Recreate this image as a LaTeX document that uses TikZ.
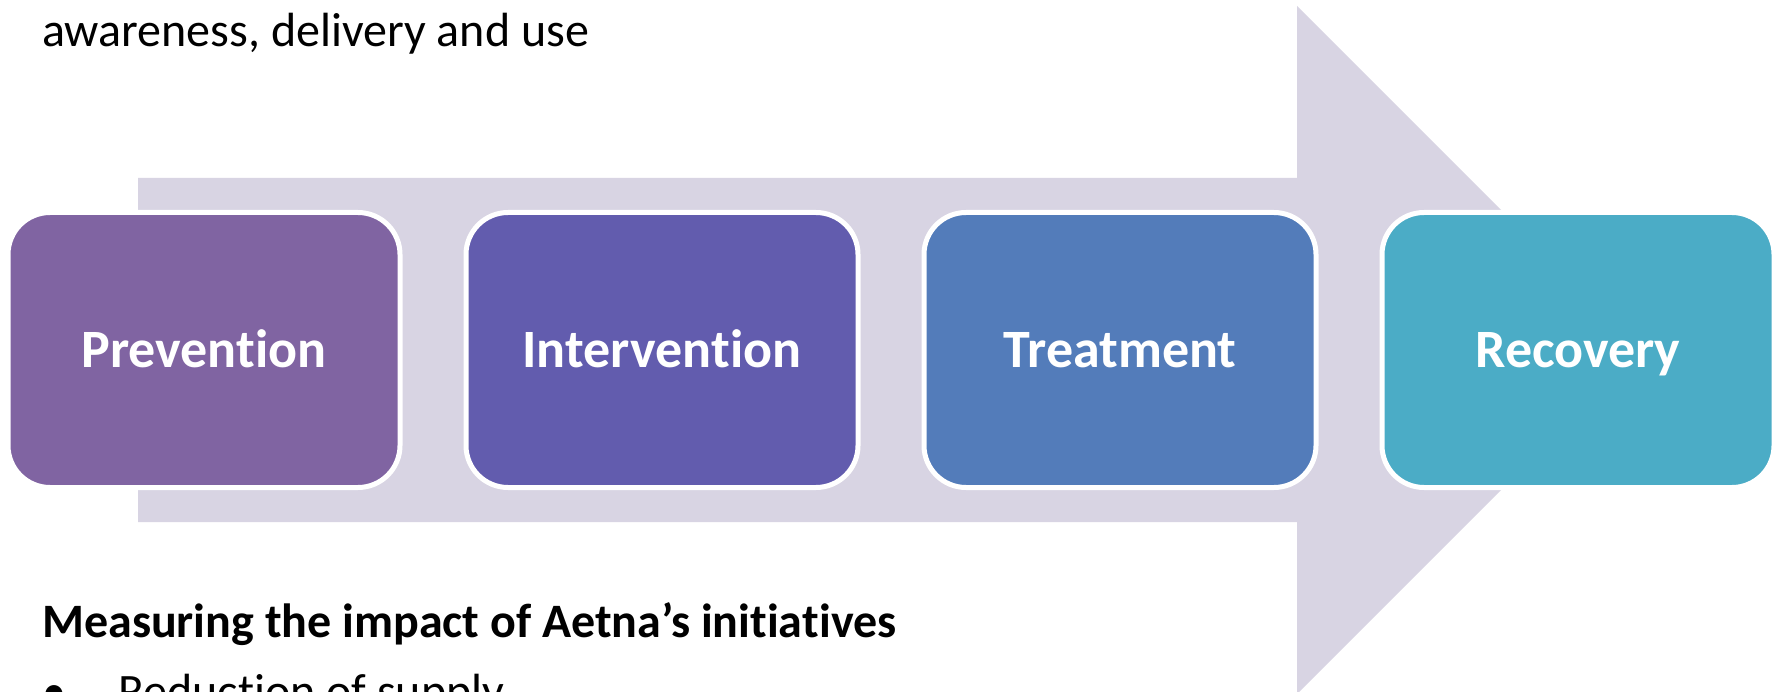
\documentclass[tikz,border=0pt]{standalone}
\usepackage{fontspec}
\setmainfont[RawFeature={-liga;-clig;-calt;-dlig}]{Carlito}
\definecolor{arrowfill}{HTML}{D8D4E3}
\definecolor{cPrev}{HTML}{8064A2}
\definecolor{cInt}{HTML}{625CAE}
\definecolor{cTreat}{HTML}{537CBA}
\definecolor{cRec}{HTML}{4BACC6}
\tikzset{
  stagebox/.style={rectangle, rounded corners=42pt, draw=white, line width=5pt,
    minimum width=392pt, minimum height=275pt, inner sep=0pt,
    text height=34pt, text depth=0pt, text=white,
    font=\fontsize{54}{64}\selectfont\bfseries},
  bodytext/.style={anchor=base west, inner sep=0pt, text=black}
}
\begin{document}
\begin{tikzpicture}[x=1pt,y=-1pt]
\path[use as bounding box] (0,0) rectangle (1779,692);
\clip (0,0) rectangle (1779,692);
\fill[white] (0,0) rectangle (1779,692);
% big arrow
\coordinate (a1) at (138,178);
\coordinate (a2) at (1297,178);
\coordinate (a3) at (1297,6);
\coordinate (a4) at (1641,350);
\coordinate (a5) at (1297,694);
\coordinate (a6) at (1297,522);
\coordinate (a7) at (138,522);
\fill[arrowfill] (a1) -- (a2) -- (a3) -- (a4) -- (a5) -- (a6) -- (a7) -- cycle;
% stages
\node[stagebox, fill=cPrev]  (prev)  at (204,350)  {Preven\kern0pt tion};
\node[stagebox, fill=cInt]   (inter) at (662,350)  {Interven\kern0pt tion};
\node[stagebox, fill=cTreat] (treat) at (1120,350) {Treatment};
\node[stagebox, fill=cRec]   (rec)   at (1578,350) {Recovery};
% texts
\node[bodytext, font=\fontsize{48}{58}\selectfont] (top) at (42,47) {awareness, delivery and use};
\node[bodytext, font=\fontsize{48}{58}\selectfont\bfseries] (head) at (42,637) {Measuring the impact of Aetna’s ini\kern0pt tia\kern0pt tives};
\node[bodytext, font=\fontsize{48}{58}\selectfont] (bul) at (42,707) {•};
\node[bodytext, font=\fontsize{48}{58}\selectfont] (red) at (118,707) {Reduction of supply};
\end{tikzpicture}
\end{document}
